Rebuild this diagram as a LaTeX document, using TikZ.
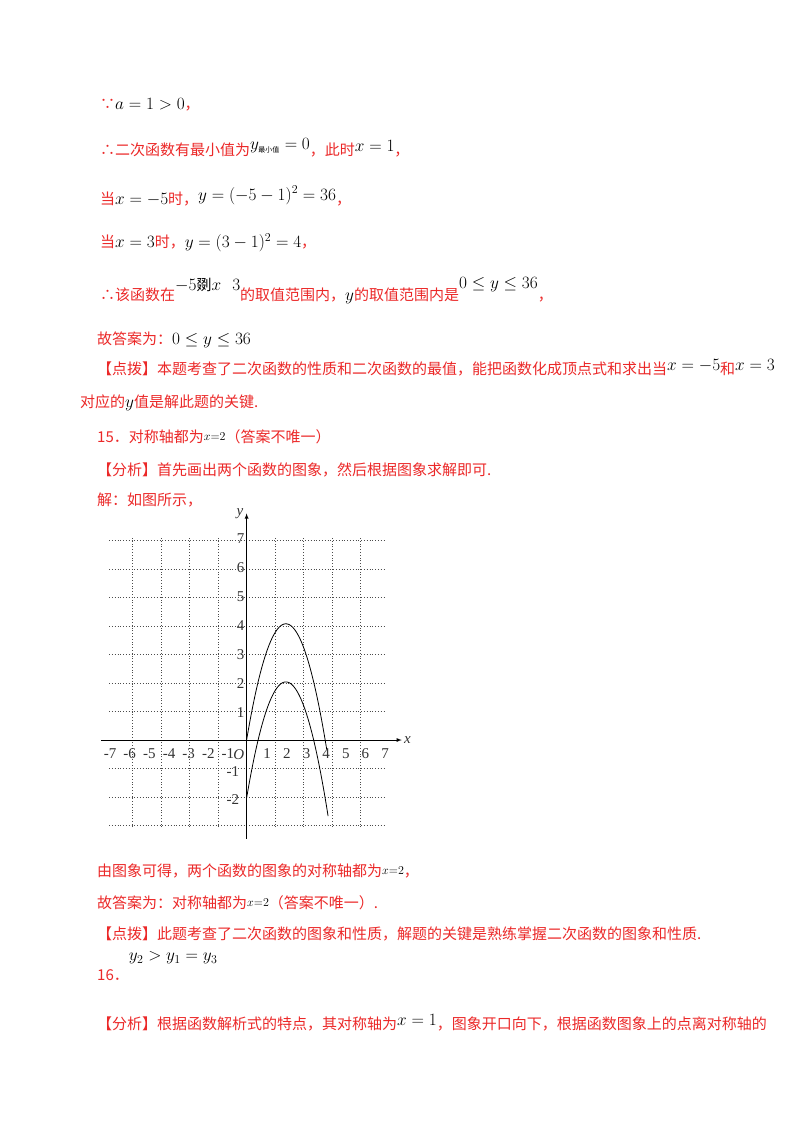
\documentclass[tikz,border=0pt]{standalone}
\usepackage{amsmath}
\usepackage{amssymb}
\usepackage{fontspec}
\setmainfont{Liberation Serif}
\newfontfamily\cjk{Noto Sans CJK SC}
\definecolor{redtxt}{RGB}{235,40,40}
\newcommand{\m}[1]{{\color{black}\fontsize{16.5}{18}\selectfont$#1$}}
\newcommand{\up}[2]{\raisebox{#1}{\m{#2}}}
\tikzset{
  txt/.style={anchor=west, inner sep=0, text=redtxt, font=\cjk\fontsize{15}{17}\selectfont},
  lbl/.style={inner sep=0, font=\fontsize{15}{17}\selectfont, text=black!80}
}

\begin{document}
\begin{tikzpicture}[x=1pt,y=-1pt]
            \useasboundingbox (0,0) rectangle (800,1132);
            \node[txt] (l1) at (100,105) {∵\m{a=1>0}，};
            \node[txt] (l2) at (100,148) {∴二次函数有最小值为\up{6pt}{y_{\hbox{\cjk\fontsize{7}{8}\selectfont 最小值}}=0}，此时\up{4pt}{x=1}，};
            \node[txt] (l3) at (100,196) {当\m{x=-5}时，\up{4pt}{y=(-5-1)^2=36}，};
            \node[txt] (l4) at (100,243) {当\m{x=3}时，\m{y=(3-1)^2=4}，};
            \node[txt] (l5) at (100,291) {∴该函数在\raisebox{10pt}{\m{-5}{\color{black}剟}\m{x\ \ \ 3}}的取值范围内，\m{y}的取值范围内是\up{12pt}{0\le y\le 36}，};
            \node[txt] (l6) at (97,340) {故答案为：\m{0\le y\le 36}};
            \node[txt] (l7) at (97,368) {【点拨】本题考查了二次函数的性质和二次函数的最值，能把函数化成顶点式和求出当\up{4pt}{x=-5}和\up{4pt}{x=3}};
            \node[txt] (l8) at (80,403) {对应的\m{y}值是解此题的关键.};
            \node[txt] (l9) at (97,437) {15．对称轴都为\up{2pt}{\scriptstyle x=2}（答案不唯一）};
            \node[txt] (l10) at (97,470) {【分析】首先画出两个函数的图象，然后根据图象求解即可.};
            \node[txt] (l11) at (97,500) {解：如图所示，};
            % graph
            \begin{scope}[shift={(246.6,740)}, x=19.64pt, y=29.05pt]
              \draw[dotted, thick, black!70] (-7,-3) grid (7,7);
              \draw[-latex, thick] (-7.4,0) -- (7.9,0) node[lbl, right=2pt] {\textit{x}};
              \draw[-latex, thick] (0,-3.4) -- (0,7.8) node[lbl, left=3pt] {\textit{y}};
              \foreach \i in {-7,...,-1,1,2,...,7}
                \node[lbl] (xt\i) at (\i+0.05,-0.48) {\i};
              \foreach \j in {1,...,7}
                \node[lbl] (yt\j) at (-0.3,\j-0.05) {\j};
              \node[lbl] (ym1) at (-0.7,-1.1) {-1};
              \node[lbl] (ym2) at (-0.7,-2.05) {-2};
              \node[lbl] (o) at (-0.4,-0.5) {\textit{O}};
              \draw[thick] plot[domain=0:4.08, samples=80] (\x, {-(\x-2)^2+4});
              \draw[thick] plot[domain=0:4.15, samples=80] (\x, {-(\x-2)^2+2});
            \end{scope}
            \node[txt] (l12) at (97,871) {由图象可得，两个函数的图象的对称轴都为\up{2pt}{\scriptstyle x=2}，};
            \node[txt] (l13) at (97,903) {故答案为：对称轴都为\up{2pt}{\scriptstyle x=2}（答案不唯一）.};
            \node[txt] (l14) at (97,934) {【点拨】此题考查了二次函数的图象和性质，解题的关键是熟练掌握二次函数的图象和性质.};
            \node[txt] (l15) at (97,966) {16．\up{20pt}{y_2>y_1=y_3}};
            \node[txt] (l16) at (97,1023) {【分析】根据函数解析式的特点，其对称轴为\up{4pt}{x=1}，图象开口向下，根据函数图象上的点离对称轴的};
        \end{tikzpicture}
\end{document}
